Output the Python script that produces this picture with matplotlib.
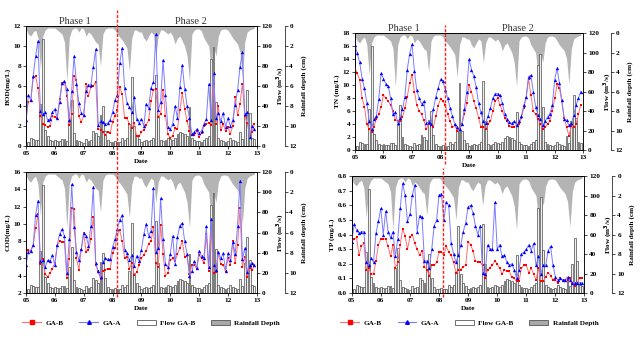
import numpy as np
import matplotlib
matplotlib.use('Agg')
import matplotlib.pyplot as plt
import matplotlib.transforms as mtransforms
from matplotlib.lines import Line2D
from matplotlib.patches import Patch

plt.rcParams['font.family'] = 'Liberation Serif'
plt.rcParams['font.weight'] = 'bold'
plt.rcParams['axes.labelweight'] = 'bold'

# monthly samples 2005-2012 (x in years, 05..13)
months = np.arange(96)
x = 5 + months / 12.0
year_ticks = [5, 6, 7, 8, 9, 10, 11, 12, 13]
year_labels = ['05', '06', '07', '08', '09', '10', '11', '12', '13']
phase_split = 8.15

flow = [3, 4, 8, 7, 6, 6, 42, 107, 16, 10, 6, 5,
        6, 5, 5, 7, 7, 5, 26, 46, 13, 6, 5, 4,
        3, 7, 5, 6, 15, 13, 10, 31, 40, 15, 6, 4,
        4, 5, 4, 4, 8, 6, 8, 22, 69, 20, 10, 7,
        4, 5, 6, 5, 6, 8, 71, 30, 6, 5, 6, 8,
        7, 6, 8, 12, 14, 13, 12, 10, 39, 8, 6, 5,
        5, 4, 6, 8, 10, 87, 99, 44, 8, 6, 5, 4,
        5, 8, 6, 5, 4, 14, 7, 30, 56, 33, 8, 7]

rain = [0.3, 0.8, 1.0, 0.6, 0.4, 1.2, 4.3, 1.0, 0.4, 0.2, 0.2, 0.2,
        0.2, 0.4, 0.6, 0.8, 1.6, 5.5, 1.2, 0.4, 0.2, 0.2, 0.6, 0.2,
        0.3, 1.0, 0.6, 0.8, 1.2, 1.6, 1.8, 4.0, 0.8, 0.3, 0.2, 0.2,
        0.2, 0.4, 0.8, 1.1, 1.4, 1.8, 2.2, 4.5, 1.2, 0.4, 0.4, 0.6,
        0.6, 1.2, 1.5, 1.0, 0.6, 0.8, 3.0, 1.0, 0.4, 0.4, 0.6, 0.8,
        0.6, 1.0, 1.8, 1.2, 1.0, 1.5, 2.0, 3.0, 5.5, 0.8, 0.4, 0.3,
        0.3, 0.5, 1.2, 1.6, 2.0, 4.5, 2.0, 3.0, 1.0, 0.4, 0.3, 0.3,
        0.4, 0.8, 1.2, 1.5, 1.8, 2.6, 5.2, 1.6, 0.6, 0.4, 0.3, 0.2]

bod_a = [2.6, 5.1, 4.6, 7.0, 9.0, 10.5, 3.5, 3.2, 3.4, 2.6, 2.7, 3.4,
         3.7, 2.8, 4.4, 6.3, 6.5, 5.7, 2.6, 5.5, 9.0, 6.2, 4.3, 3.3,
         3.1, 5.5, 6.1, 6.1, 7.9, 9.7, 2.1, 2.5, 2.4, 2.2, 2.3, 2.6,
         3.4, 4.6, 5.1, 8.3, 9.8, 5.8, 4.3, 3.9, 3.4, 4.9, 2.7, 2.3,
         2.7, 2.0, 4.2, 3.8, 5.8, 6.4, 11.2, 3.6, 4.4, 8.6, 5.1, 1.9,
         1.7, 2.2, 4.0, 2.8, 5.9, 8.1, 5.7, 4.0, 2.8, 1.2, 1.4, 1.7,
         1.3, 1.5, 2.2, 2.7, 6.2, 2.6, 7.3, 2.8, 3.3, 2.5, 3.3, 1.9,
         2.8, 2.0, 2.6, 4.1, 5.6, 7.9, 9.4, 3.2, 3.4, 0.9, 2.0, 1.7]
bod_b = [2.6, 4.4, 4.5, 6.8, 7.0, 5.8, 3.0, 2.2, 2.1, 1.9, 2.0, 3.0,
         2.9, 2.8, 4.7, 6.3, 6.4, 5.0, 2.1, 3.2, 7.0, 6.6, 3.0, 2.4,
         3.0, 6.2, 5.0, 5.9, 6.0, 6.4, 1.7, 1.6, 1.4, 1.1, 1.4, 1.3,
         2.4, 3.0, 3.6, 5.9, 5.2, 2.8, 2.8, 2.2, 1.8, 2.3, 1.0, 1.0,
         1.4, 1.6, 2.1, 2.6, 4.5, 5.6, 5.7, 2.9, 3.2, 5.6, 3.0, 1.2,
         0.8, 1.0, 1.8, 1.7, 3.6, 5.3, 3.7, 2.5, 1.5, 1.1, 1.1, 1.5,
         0.9, 1.3, 2.0, 2.2, 2.3, 2.1, 6.2, 2.2, 4.0, 1.6, 2.2, 1.5,
         1.9, 1.2, 2.0, 4.9, 3.1, 4.2, 6.2, 3.0, 2.3, 1.1, 1.4, 2.2]

tn_a = [16.2, 14.9, 13.5, 11.0, 9.5, 7.3, 4.5, 3.3, 4.8, 5.2, 7.8, 11.8,
        11.0, 10.2, 9.8, 8.0, 5.5, 5.8, 4.2, 5.0, 6.3, 8.2, 12.4, 14.8,
        16.3, 12.2, 9.2, 8.0, 7.1, 7.5, 4.2, 4.3, 4.0, 6.3, 8.2, 9.5,
        10.9, 10.6, 9.3, 8.0, 6.5, 5.2, 4.0, 3.5, 3.2, 4.0, 6.3, 9.0,
        14.0, 12.4, 11.4, 9.7, 7.2, 5.8, 4.4, 4.2, 5.3, 6.5, 8.0, 8.7,
        8.7, 8.4, 7.2, 5.6, 4.8, 4.3, 4.1, 4.4, 3.8, 4.4, 5.2, 6.9,
        8.1, 11.3, 11.5, 9.0, 6.7, 5.4, 4.8, 3.8, 4.4, 5.1, 5.6, 6.9,
        10.8, 12.6, 10.3, 7.7, 4.8, 4.6, 3.8, 4.1, 5.4, 6.9, 8.0, 9.0]
tn_b = [12.6, 11.8, 10.8, 8.0, 6.7, 4.0, 3.2, 2.8, 3.6, 4.8, 5.5, 6.7,
        8.5, 8.0, 7.5, 6.9, 6.0, 4.6, 4.5, 4.5, 5.1, 6.4, 8.2, 10.3,
        11.6, 9.0, 7.0, 6.0, 5.5, 4.6, 3.2, 4.0, 4.0, 3.5, 5.2, 6.8,
        7.9, 7.6, 6.9, 5.5, 4.5, 3.5, 3.8, 3.0, 3.3, 4.0, 5.5, 7.2,
        10.0, 9.0, 7.5, 6.4, 5.0, 3.5, 3.5, 3.2, 4.0, 4.5, 6.0, 7.5,
        8.0, 7.0, 6.0, 5.0, 4.4, 3.7, 3.5, 3.6, 3.8, 4.0, 5.0, 6.5,
        8.0, 11.0, 8.5, 6.0, 5.5, 4.8, 4.0, 3.3, 3.5, 4.0, 4.5, 6.0,
        8.0, 10.1, 9.5, 7.5, 5.0, 3.5, 2.2, 3.7, 3.5, 4.0, 5.5, 7.0]

cod_a = [5.2, 6.8, 6.9, 7.6, 11.0, 12.7, 5.7, 5.8, 5.0, 5.8, 5.7, 6.4,
         5.2, 7.6, 8.8, 9.4, 8.6, 4.3, 8.2, 14.6, 9.6, 6.8, 5.8, 7.1,
         9.0, 8.6, 7.5, 9.8, 14.3, 5.5, 4.5, 3.9, 5.6, 6.0, 5.9, 5.9,
         7.3, 8.2, 9.4, 10.5, 11.0, 7.0, 6.6, 5.8, 6.4, 5.1, 6.3, 5.7,
         7.0, 8.8, 10.0, 8.6, 9.2, 14.2, 6.8, 7.2, 13.0, 8.2, 5.4, 5.0,
         6.5, 8.6, 5.4, 8.5, 9.8, 10.1, 8.0, 6.5, 4.0, 4.5, 5.7, 4.9,
         6.9, 6.3, 6.0, 9.7, 5.0, 10.6, 5.2, 4.7, 6.8, 6.0, 6.6, 4.6,
         6.6, 5.8, 7.9, 6.5, 9.8, 15.0, 5.9, 7.2, 4.4, 5.3, 5.5, 5.3]
cod_b = [6.6, 7.0, 6.9, 7.5, 9.5, 11.1, 5.4, 5.9, 4.2, 3.9, 4.3, 4.8,
         5.5, 7.5, 8.0, 7.9, 7.9, 3.7, 5.9, 11.8, 11.7, 6.0, 4.7, 7.0,
         9.0, 6.8, 7.0, 8.2, 10.8, 5.3, 4.6, 3.6, 4.5, 4.7, 4.8, 4.8,
         6.6, 7.2, 8.8, 9.3, 8.0, 6.1, 6.2, 4.8, 5.5, 4.1, 4.4, 5.3,
         6.0, 6.4, 6.9, 7.7, 8.0, 9.6, 5.5, 5.0, 9.9, 6.5, 4.0, 4.3,
         5.8, 6.0, 5.7, 6.5, 7.2, 8.0, 6.2, 6.3, 4.2, 5.2, 5.3, 4.8,
         6.4, 6.0, 5.5, 8.8, 4.6, 9.4, 4.3, 4.4, 6.6, 5.4, 5.3, 4.5,
         6.0, 5.3, 8.0, 5.5, 7.6, 11.8, 5.0, 6.2, 3.8, 4.9, 4.7, 5.1]

tp_a = [0.35, 0.47, 0.43, 0.41, 0.42, 0.42, 0.21, 0.19, 0.24, 0.21, 0.41, 0.49,
        0.58, 0.40, 0.56, 0.42, 0.38, 0.42, 0.25, 0.37, 0.58, 0.75, 0.67, 0.49,
        0.54, 0.67, 0.74, 0.42, 0.53, 0.52, 0.22, 0.22, 0.17, 0.30, 0.46, 0.50,
        0.67, 0.68, 0.50, 0.62, 0.60, 0.34, 0.27, 0.21, 0.26, 0.33, 0.42, 0.48,
        0.59, 0.60, 0.55, 0.46, 0.40, 0.46, 0.14, 0.13, 0.33, 0.30, 0.30, 0.62,
        0.30, 0.33, 0.25, 0.26, 0.21, 0.19, 0.20, 0.16, 0.10, 0.16, 0.27, 0.28,
        0.30, 0.33, 0.29, 0.34, 0.19, 0.25, 0.13, 0.19, 0.19, 0.29, 0.32, 0.19,
        0.11, 0.09, 0.10, 0.09, 0.09, 0.11, 0.09, 0.07, 0.07, 0.07, 0.07, 0.07]
tp_b = [0.35, 0.37, 0.38, 0.26, 0.32, 0.34, 0.16, 0.17, 0.13, 0.13, 0.22, 0.33,
        0.37, 0.37, 0.37, 0.32, 0.25, 0.33, 0.17, 0.21, 0.33, 0.44, 0.39, 0.30,
        0.38, 0.40, 0.34, 0.30, 0.26, 0.29, 0.18, 0.16, 0.12, 0.19, 0.19, 0.21,
        0.28, 0.28, 0.26, 0.32, 0.28, 0.26, 0.21, 0.14, 0.16, 0.16, 0.18, 0.19,
        0.35, 0.33, 0.29, 0.22, 0.21, 0.21, 0.19, 0.10, 0.16, 0.17, 0.19, 0.22,
        0.20, 0.17, 0.13, 0.16, 0.15, 0.15, 0.11, 0.10, 0.08, 0.08, 0.17, 0.19,
        0.19, 0.14, 0.17, 0.13, 0.09, 0.17, 0.08, 0.08, 0.11, 0.14, 0.12, 0.09,
        0.09, 0.07, 0.10, 0.09, 0.09, 0.09, 0.10, 0.07, 0.05, 0.07, 0.10, 0.10]

FS = 5.2


def panel(rect, ga_b, ga_a, ylim, yticks, ylabel, phases, vline):
    ax = fig.add_axes(rect)
    axr = ax.twinx()
    axf = ax.twinx()
    axr.spines['right'].set_position(('axes', 1.12))

    # rainfall hanging from the top (inverted axis)
    axr.fill_between(x, 0, rain, color='#b4b4b4', lw=0)
    axr.set_ylim(12, 0)
    axr.set_yticks(range(0, 13, 2))
    axr.set_ylabel('Rainfall depth (cm)', fontsize=FS, labelpad=3)

    # flow bars
    axf.bar(x, flow, width=0.065, color='#eeeeee', edgecolor='#3a3a3a', lw=0.45)
    axf.set_ylim(0, 120)
    axf.set_yticks(range(0, 121, 20))
    axf.set_ylabel('Flow (m$^3$/s)', fontsize=FS, labelpad=2)

    ax.plot(x, ga_b, color='#ff7070', lw=0.7, marker='s', ms=2.0,
            mfc='#ff0000', mec='#ff0000', mew=0)
    ax.plot(x, ga_a, color='#7b7bff', lw=0.7, marker='^', ms=2.4,
            mfc='#0000ff', mec='#0000ff', mew=0)
    ax.set_ylim(*ylim)
    ax.set_yticks(yticks)
    ax.set_xlim(5, 13)
    ax.set_xticks(year_ticks)
    ax.set_xticklabels(year_labels)
    ax.set_xlabel('Date', fontsize=FS, labelpad=2)
    ax.set_ylabel(ylabel, fontsize=FS, labelpad=2)

    ax.set_zorder(3)
    ax.patch.set_visible(False)
    axf.set_zorder(2)
    axf.patch.set_visible(False)
    axr.set_zorder(1)

    for a in (ax, axf, axr):
        a.tick_params(labelsize=FS, length=2, width=0.5, pad=1.5)
        for s in a.spines.values():
            s.set_linewidth(0.5)

    tr = mtransforms.blended_transform_factory(ax.transData, ax.transAxes)
    ax.plot([phase_split, phase_split], vline, color='#ff2020', lw=1.0,
            ls=(0, (2.2, 1.2)), transform=tr, clip_on=False, zorder=10)
    if phases:
        ax.text(6.7, 1.0, 'Phase 1', transform=tr, fontsize=7.5, fontweight='normal',
                ha='center', va='bottom', color='#333333')
        ax.text(10.7, 1.0, 'Phase 2', transform=tr, fontsize=7.5, fontweight='normal',
                ha='center', va='bottom', color='#333333')
    return ax


fig = plt.figure(figsize=(6.43, 3.38), dpi=100)

panel([0.0404, 0.568, 0.359, 0.355], bod_b, bod_a, (0, 12), range(0, 13, 2),
      'BOD(mg/L)', True, [-0.15, 1.13])
panel([0.552, 0.556, 0.355, 0.346], tn_b, tn_a, (0, 18), range(0, 19, 2),
      'TN (mg/L)', True, [-0.12, 1.07])
panel([0.0404, 0.133, 0.359, 0.358], cod_b, cod_a, (2, 16), range(2, 17, 2),
      'COD(mg/L)', False, [-0.03, 1.06])
panel([0.547, 0.133, 0.362, 0.346], tp_b, tp_a, (0, 0.8), np.arange(0, 0.81, 0.1),
      'TP (mg/L)', False, [-0.03, 1.07])

handles = [Line2D([], [], color='#ff7070', lw=0.8, marker='s', ms=2.2, mfc='#ff0000', mec='#ff0000'),
           Line2D([], [], color='#7b7bff', lw=0.8, marker='^', ms=2.6, mfc='#0000ff', mec='#0000ff'),
           Patch(facecolor='#ffffff', edgecolor='#3a3a3a', lw=0.5),
           Patch(facecolor='#a8a8a8', edgecolor='#3a3a3a', lw=0.5)]
names = ['GA-B', 'GA-A', 'Flow GA-B', 'Rainfall Depth']
for cx in (0.235, 0.73):
    fig.legend(handles, names, loc='center', bbox_to_anchor=(cx, 0.045), ncol=4,
               frameon=False, fontsize=FS, handlelength=2.6, handleheight=0.8,
               columnspacing=2.2, handletextpad=0.6)

fig.savefig('out.png', dpi=100)
